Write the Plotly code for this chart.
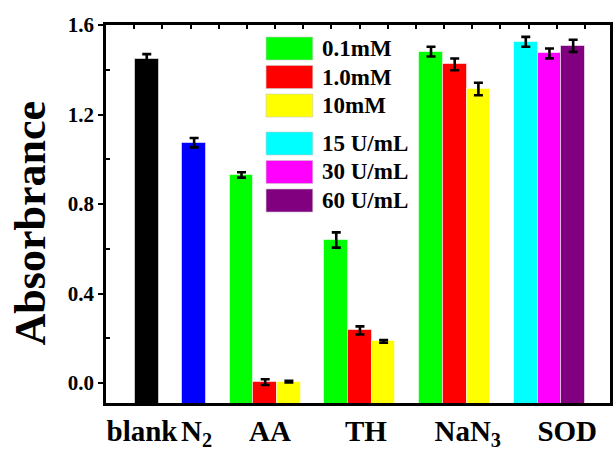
import plotly.graph_objects as go

# ---------------- data ----------------
categories = ["blank", "N<sub>2</sub>", "AA", "TH", "NaN<sub>3</sub>", "SOD"]
legend_names = ["0.1mM", "1.0mM", "10mM", "15 U/mL", "30 U/mL", "60 U/mL"]

blank_val = [1.448]
blank_err = [0.022]
n2_val = [1.074]
n2_err = [0.021]
aa_val = [0.930, 0.004, 0.006]
aa_err = [0.012, 0.013, 0.004]
th_val = [0.639, 0.235, 0.186]
th_err = [0.034, 0.018, 0.006]
nan3_val = [1.481, 1.424, 1.314]
nan3_err = [0.022, 0.026, 0.028]
sod_val = [1.525, 1.473, 1.507]
sod_err = [0.022, 0.022, 0.027]

y_ticks = [0.0, 0.4, 0.8, 1.2, 1.6]

# ---------------- styling ----------------
GREEN, RED, YELLOW = "#00FF00", "#FF0000", "#FFFF00"
CYAN, MAGENTA, PURPLE = "#00FFFF", "#FF00FF", "#800080"
legend_colors = [GREEN, RED, YELLOW, CYAN, MAGENTA, PURPLE]

group_vals = [blank_val, n2_val, aa_val, th_val, nan3_val, sod_val]
group_errs = [blank_err, n2_err, aa_err, th_err, nan3_err, sod_err]
group_colors = [["#000000"], ["#0000FF"], [GREEN, RED, YELLOW],
                [GREEN, RED, YELLOW], [GREEN, RED, YELLOW], [CYAN, MAGENTA, PURPLE]]
label_shift = [-0.2, 0.1, 0.2, 0.25, 0.55, 0.75]

FONT = "Liberation Serif"
BASE = -0.3
W, H = 614, 454
ML, MR, MT, MB = 106, 1, 25, 51
PW, PH = W - ML - MR, H - MT - MB

fig = go.Figure()

starts = []
s = 0
for vals in group_vals:
    starts.append(s)
    s += len(vals) + 1

label_pos = []
for gi, vals in enumerate(group_vals):
    xs = [starts[gi] + i for i in range(len(vals))]
    label_pos.append(starts[gi] + (len(vals) - 1) / 2 + label_shift[gi])
    fig.add_trace(go.Bar(
        x=xs,
        y=[v - BASE for v in vals],
        base=BASE,
        width=1.0,
        marker=dict(color=group_colors[gi],
                    line=dict(color="rgba(255,255,255,0.55)", width=1)),
        error_y=dict(type="data", array=group_errs[gi], visible=True,
                     color="black", thickness=2.6, width=4.5),
        showlegend=False,
        hoverinfo="skip",
    ))

# invisible trace for the top tick axis
fig.add_trace(go.Scatter(x=[None], y=[None], xaxis="x2", showlegend=False,
                         hoverinfo="skip"))

xr = [-1.72, 19.555]

fig.update_layout(
    width=W, height=H,
    margin=dict(l=ML, r=MR, t=MT, b=MB, pad=0),
    paper_bgcolor="white", plot_bgcolor="white",
    bargap=0,
    font=dict(family=FONT, color="black"),
    xaxis=dict(range=xr, showgrid=False, zeroline=False,
               showline=True, linecolor="black", linewidth=2.5, mirror=True,
               tickvals=label_pos, ticktext=categories, ticks="",
               tickfont=dict(family=FONT, size=29, weight="bold", color="black")),
    xaxis2=dict(range=xr, overlaying="x", side="top", anchor="y",
                showgrid=False, zeroline=False, showline=False,
                tick0=xr[0], dtick=1.189, ticks="inside", ticklen=4,
                tickwidth=2, tickcolor="black", showticklabels=False),
    yaxis=dict(range=[-0.0894, 1.6], showgrid=False, zeroline=False,
               showline=True, linecolor="black", linewidth=2.5, mirror=True,
               tickvals=y_ticks, ticktext=[f"{t:.1f}" for t in y_ticks],
               ticks="outside", ticklen=5, tickwidth=2, tickcolor="black",
               minor=dict(tickvals=[0.2, 0.6, 1.0, 1.4], ticks="inside",
                          ticklen=4, tickwidth=2, tickcolor="black"),
               tickfont=dict(family=FONT, size=21, weight="bold", color="black")),
)

# y-axis title
fig.add_annotation(text="Absorbrance", xref="paper", yref="paper",
                   x=(30 - ML) / PW, y=(H - MB - 223) / PH, textangle=-90,
                   showarrow=False, xanchor="center", yanchor="middle",
                   font=dict(family=FONT, size=44, weight="bold", color="black"))

# legend (drawn manually to match the large swatches)
row_y = []
y = 48.5
for i in range(len(legend_names)):
    row_y.append(y)
    y += 28.5 + (9.5 if i == 2 else 0)

for name, col, cy in zip(legend_names, legend_colors, row_y):
    fig.add_shape(type="rect", xref="paper", yref="paper",
                  x0=(267 - ML) / PW, x1=(314 - ML) / PW,
                  y0=(H - MB - (cy + 11.5)) / PH, y1=(H - MB - (cy - 11.5)) / PH,
                  fillcolor=col, line=dict(color="rgba(200,200,200,0.6)", width=1))
    fig.add_annotation(text=name, xref="paper", yref="paper",
                       x=(321 - ML) / PW, y=(H - MB - cy) / PH,
                       xanchor="left", yanchor="middle", showarrow=False,
                       font=dict(family=FONT, size=23, weight="bold", color="black"))

fig.write_html("out.html")
